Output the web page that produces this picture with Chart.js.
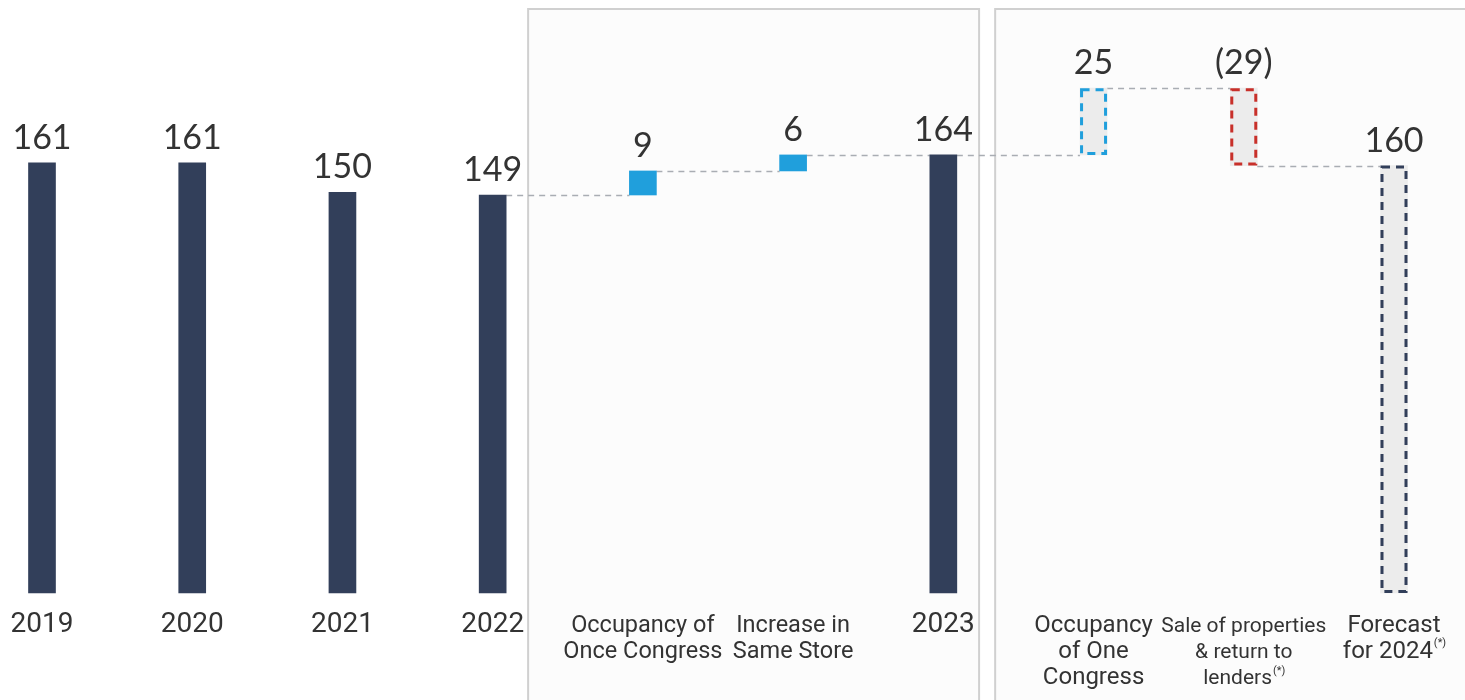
<!DOCTYPE html>
<html>
<head>
<meta charset="utf-8">
<title>Occupancy bridge</title>
<script src="https://cdn.jsdelivr.net/npm/chart.js@4.4.1/dist/chart.umd.min.js"></script>
<style>
    html, body { margin: 0; padding: 0; background: #fff; }
    #wrap { position: relative; width: 1465px; height: 700px; }
</style>
</head>
<body>
<div id="wrap"><canvas id="bridge"></canvas></div>
<script>
/* global Chart */

// ---- data -------------------------------------------------------------
var categories = [
    ['2019'], ['2020'], ['2021'], ['2022'],
    ['Occupancy of', 'Once Congress'],
    ['Increase in', 'Same Store'],
    ['2023'],
    ['Occupancy', 'of One', 'Congress'],
    ['Sale of properties', '& return to', 'lenders'],
    ['Forecast', 'for 2024']
];
var footnotes = ['', '', '', '', '', '', '', '', '(*)', '(*)'];
var values    = [161, 161, 150, 149, 9, 6, 164, 25, -29, 160];
var kinds     = ['total', 'total', 'total', 'total', 'delta', 'delta', 'total', 'delta', 'delta', 'total'];
var projected = [false, false, false, false, false, false, false, true, true, true];

// ---- look ---------------------------------------------------------------
var NAVY   = '#323f5a';
var BLUE   = '#209fdc';
var RED    = '#c8302a';
var GHOST  = '#ececec';
var TEXT   = '#333333';
var labelSize = [28, 28, 28, 28, 23.5, 23.5, 28, 24, 21, 24];

// floating ranges: totals stand on zero, deltas hang off the running level
var ranges = [];
var running = 0;
values.forEach(function (v, i) {
    if (kinds[i] === 'total') {
        ranges.push([0, v]);
        running = v;
    } else {
        ranges.push(v >= 0 ? [running, running + v] : [running + v, running]);
        running += v;
    }
});
var levels = ranges.map(function (r, i) {
    return kinds[i] === 'total' ? r[1] : (values[i] >= 0 ? r[1] : r[0]);
});

var fills = values.map(function (v, i) {
    if (projected[i]) return GHOST;
    return kinds[i] === 'total' ? NAVY : BLUE;
});
var edges = values.map(function (v, i) {
    if (!projected[i]) return null;
    if (kinds[i] === 'total') return NAVY;
    return v >= 0 ? BLUE : RED;
});

function fmt(v) {
    return v < 0 ? '(' + Math.abs(v) + ')' : String(v);
}

// ---- plugins ------------------------------------------------------------
var panels = {
    id: 'panels',
    beforeDraw: function (chart) {
        var c = chart.ctx, x = chart.scales.x;
        var boxes = [[3.236, 6.238], [6.345, 9.8]];
        c.save();
        c.fillStyle = '#fcfcfc';
        c.strokeStyle = '#d0d0d0';
        c.lineWidth = 2;
        boxes.forEach(function (b) {
            var l = x.getPixelForValue(b[0]), r = x.getPixelForValue(b[1]);
            c.fillRect(l, 9, r - l, 720);
            c.strokeRect(l, 9, r - l, 720);
        });
        c.restore();
    }
};

var connectors = {
    id: 'connectors',
    beforeDatasetsDraw: function (chart) {
        var c = chart.ctx, y = chart.scales.y;
        var bars = chart.getDatasetMeta(0).data;
        c.save();
        c.strokeStyle = '#a9adb3';
        c.lineWidth = 1.5;
        c.setLineDash([6, 5]);
        for (var i = 0; i < bars.length - 1; i++) {
            if (kinds[i] === 'total' && kinds[i + 1] === 'total' && !projected[i + 1]) continue;
            var py = Math.round(y.getPixelForValue(levels[i])) + 0.5;
            c.beginPath();
            c.moveTo(bars[i].x + bars[i].width / 2, py);
            c.lineTo(bars[i + 1].x - bars[i + 1].width / 2, py);
            c.stroke();
        }
        c.restore();
    }
};

var dashedBoxes = {
    id: 'dashedBoxes',
    afterDatasetsDraw: function (chart) {
        var c = chart.ctx;
        var bars = chart.getDatasetMeta(0).data;
        c.save();
        c.lineWidth = 3;
        c.setLineDash([8, 6]);
        bars.forEach(function (b, i) {
            if (!edges[i]) return;
            var top = Math.min(b.y, b.base), h = Math.abs(b.base - b.y);
            c.strokeStyle = edges[i];
            c.strokeRect(b.x - b.width / 2 + 1.5, top + 1.5, b.width - 3, h - 3);
        });
        c.restore();
    }
};

var valueLabels = {
    id: 'valueLabels',
    afterDatasetsDraw: function (chart) {
        var c = chart.ctx;
        var bars = chart.getDatasetMeta(0).data;
        c.save();
        c.fillStyle = TEXT;
        c.font = '34px Lato';
        c.textAlign = 'center';
        c.textBaseline = 'alphabetic';
        bars.forEach(function (b, i) {
            var top = Math.min(b.y, b.base);
            c.fillText(fmt(values[i]), b.x, top - 14);
        });
        c.restore();
    }
};

var categoryLabels = {
    id: 'categoryLabels',
    afterDraw: function (chart) {
        var c = chart.ctx, x = chart.scales.x;
        c.save();
        c.fillStyle = TEXT;
        c.textBaseline = 'alphabetic';
        c.textAlign = 'left';
        categories.forEach(function (lines, i) {
            var cx = x.getPixelForValue(i);
            var size = labelSize[i];
            var lh = 26;
            lines.forEach(function (line, k) {
                var last = k === lines.length - 1;
                var note = last ? footnotes[i] : '';
                c.font = size + 'px Roboto';
                var w = c.measureText(line).width;
                c.font = '11px Roboto';
                var nw = note ? c.measureText(note).width : 0;
                var left = cx - (w + nw) / 2;
                var base = 632 + k * lh;
                c.font = size + 'px Roboto';
                c.fillText(line, left, base);
                if (note) {
                    c.font = '11px Roboto';
                    c.fillText(note, left + w + 1, base - size * 0.5);
                }
            });
        });
        c.restore();
    }
};

// ---- chart ------------------------------------------------------------
new Chart(document.getElementById('bridge'), {
    type: 'bar',
    data: {
        labels: categories.map(function (l) { return l.join(' '); }),
        datasets: [{
            data: ranges,
            backgroundColor: fills,
            borderWidth: 0,
            borderSkipped: false,
            barThickness: 27,
            clip: false
        }]
    },
    options: {
        responsive: true,
        maintainAspectRatio: false,
        animation: false,
        layout: { padding: { left: 42, right: 71, top: 0, bottom: 107 } },
        plugins: {
            legend:  { display: false },
            tooltip: { enabled: false }
        },
        scales: {
            x: { display: false, offset: false },
            y: { display: false, min: 0, max: 222 }
        }
    },
    plugins: [panels, connectors, dashedBoxes, valueLabels, categoryLabels]
});
</script>
</body>
</html>
